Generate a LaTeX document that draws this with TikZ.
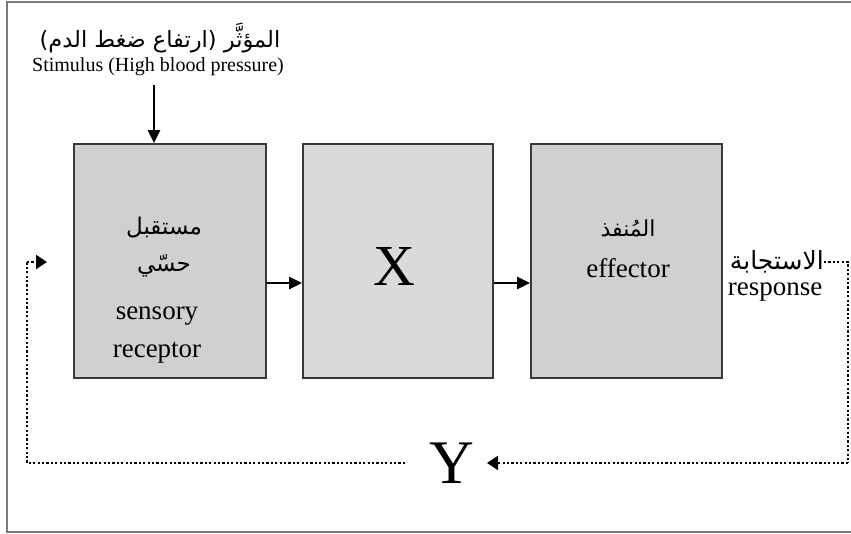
\documentclass[tikz,border=0pt]{standalone}
\usepackage{fontspec}
\setmainfont{Liberation Serif}
\newfontfamily\arabicfont[Script=Arabic]{DejaVu Sans}
\TeXXeTstate=1
\usetikzlibrary{arrows.meta}
\definecolor{boxA}{HTML}{D0D0D0}
\definecolor{boxB}{HTML}{DADADA}
\definecolor{edge}{HTML}{383838}
\definecolor{frame}{HTML}{7A7A7A}
\tikzset{
  blk/.style={draw=edge, line width=1.8pt, minimum width=192pt, minimum height=234pt, inner sep=0pt},
  txt/.style={inner sep=0pt, text=black},
  arr/.style={line width=2.6pt, -{Triangle[length=13pt,width=12pt]}},
  dotl/.style={line width=2.4pt, line cap=butt, dash pattern=on 2.2pt off 2.2pt},
  dotarr/.style={dotl, -{Triangle[length=11pt,width=14pt,line cap=butt,line join=miter]}}
}
\begin{document}
\begin{tikzpicture}[x=1pt,y=-1pt]
\useasboundingbox (0,0) rectangle (851,533);
\begin{scope}
\clip (0,0) rectangle (851,533);
\draw[frame, line width=1.8pt] (7,2) rectangle (870,532);
\end{scope}

% boxes
\node[blk, fill=boxA] (b1) at (170,261) {};
\node[blk, fill=boxB, minimum width=190pt] (b2) at (398,261) {};
\node[blk, fill=boxA, minimum width=191pt] (b3) at (626.5,261) {};

% stimulus
\node[txt, font=\arabicfont\fontsize{22.5}{26}\selectfont] (stimAr) at (160,38) {\beginR المؤثَّر (ارتفاع ضغط الدم)\endR};
\node[txt, font=\fontsize{20}{24}\selectfont] (stimEn) at (158,67) {Stimulus (High blood pressure)};
\coordinate (stimTop) at (154,85);
\draw[arr] (stimTop) -- (stimTop |- b1.north);

% box 1 texts
\node[txt, font=\arabicfont\fontsize{23}{26}\selectfont] (r1) at (164,228) {\beginR مستقبل\endR};
\node[txt, font=\arabicfont\fontsize{23}{26}\selectfont] (r2) at (164,266) {\beginR حسّي\endR};
\node[txt, font=\fontsize{27}{30}\selectfont] (r3) at (157,316) {sensory};
\node[txt, font=\fontsize{27}{30}\selectfont] (r4) at (157,353) {receptor};

% box 2
\node[txt, font=\fontsize{58}{60}\selectfont] (X) at (394,267) {X};

% box 3
\node[txt, font=\arabicfont\fontsize{22}{26}\selectfont] (e1) at (628,228) {\beginR المُنفذ\endR};
\node[txt, font=\fontsize{27}{30}\selectfont] (e2) at (628,268) {effector};

% response
\node[txt, font=\arabicfont\fontsize{25}{28}\selectfont, anchor=east] (resAr) at (824,262) {\beginR الاستجابة\endR};
\node[txt, font=\fontsize{27}{30}\selectfont] (resEn) at (775,292) {response};

% arrows between boxes
\draw[arr] (b1.east |- 0,283) -- (b2.west |- 0,283);
\draw[arr] (b2.east |- 0,283) -- (b3.west |- 0,283);

% feedback loop
\node[txt, font=\fontsize{62}{64}\selectfont] (Y) at (452,463) {Y};
\coordinate (rtop) at (848,262);
\coordinate (rbot) at (848,463);
\coordinate (ytip) at (487,463);
\coordinate (yleft) at (405,463);
\coordinate (lbot) at (27,463);
\coordinate (ltop) at (27,262);
\coordinate (ltip) at (47,262);
\draw[dotl] (resAr.east) -- (rtop) -- (rbot);
\draw[dotarr] (rbot) -- (ytip);
\draw[dotl] (yleft) -- (lbot) -- (ltop);
\draw[dotarr] (ltop) -- (ltip);
\end{tikzpicture}
\end{document}
